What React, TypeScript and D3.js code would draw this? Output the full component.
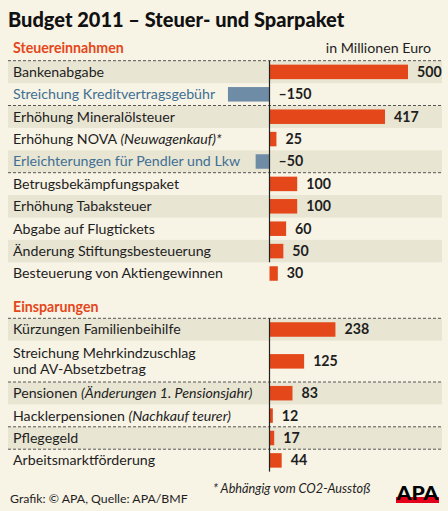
import React from "react";
import * as d3 from "d3";

const taxLabels = [
  "Bankenabgabe",
  "Streichung Kreditvertragsgebühr",
  "Erhöhung Mineralölsteuer",
  "Erhöhung NOVA ",
  "Erleichterungen für Pendler und Lkw",
  "Betrugsbekämpfungspaket",
  "Erhöhung Tabaksteuer",
  "Abgabe auf Flugtickets",
  "Änderung Stiftungsbesteuerung",
  "Besteuerung von Aktiengewinnen",
];
const taxItalic = ["", "", "", "(Neuwagenkauf)*", "", "", "", "", "", ""];
const taxValues = [500, -150, 417, 25, -50, 100, 100, 60, 50, 30];
const taxDashBelow = [1, 4];

const saveLabels = [
  ["Kürzungen Familienbeihilfe"],
  ["Streichung Mehrkindzuschlag", "und AV-Absetzbetrag"],
  ["Pensionen "],
  ["Hacklerpensionen "],
  ["Pflegegeld"],
  ["Arbeitsmarktförderung"],
];
const saveItalic = ["", "", "(Änderungen 1. Pensionsjahr)", "(Nachkauf teurer)", "", ""];
const saveValues = [238, 125, 83, 12, 17, 44];
const saveDashBelow = [1, 3, 4];

const W = 448;
const H = 511;
const BG = "#f7f3e5";
const BAND = "#e8e5d3";
const RED = "#e4471a";
const BLUE = "#6e8ca6";
const BLUE_TXT = "#3f7093";
const FONT = "Lato, 'Open Sans', sans-serif";
const FS = 14.2;

const x = d3.scaleLinear().domain([0, 500]).range([269.5, 408]);
const ROW = 22.4;
const LINE2 = 18.9;
const BAR_H = 14.5;

type Row = { lines: string[]; italic: string; value: number; y0: number; h: number };

function layout(labels: string[][], italic: string[], values: number[], top: number): Row[] {
  let y = top;
  return labels.map((l, i) => {
    const h = ROW + (l.length - 1) * LINE2;
    const r = { lines: l, italic: italic[i], value: values[i], y0: y, h };
    y += h;
    return r;
  });
}

const taxRows = layout(taxLabels.map((l) => [l]), taxItalic, taxValues, 60.7);
const saveRows = layout(saveLabels, saveItalic, saveValues, 318.3);

function fmt(v: number) {
  return v < 0 ? "–" + Math.abs(v) : String(v);
}

function Section({ rows, dashBelow, axisEnd }: { rows: Row[]; dashBelow: number[]; axisEnd: number }) {
  const top = rows[0].y0;
  return (
    <g>
      {rows.map((r, i) =>
        i % 2 === 0 ? <rect key={"b" + i} x={8} y={r.y0} width={434} height={r.h} fill={BAND} /> : null
      )}
      <line x1={8} x2={442} y1={top} y2={top} stroke="#555" strokeWidth={1} strokeDasharray="3,2" />
      {dashBelow.map((i) => (
        <line
          key={"d" + i}
          x1={8}
          x2={442}
          y1={rows[i].y0 + rows[i].h}
          y2={rows[i].y0 + rows[i].h}
          stroke="#555"
          strokeWidth={1}
          strokeDasharray="3,2"
        />
      ))}
      {rows.map((r, i) => {
        const cy = r.y0 + r.h / 2;
        const neg = r.value < 0;
        const col = neg ? BLUE_TXT : "#1e1e1e";
        const n = r.lines.length;
        return (
          <g key={"r" + i}>
            {r.lines.map((ln, j) => (
              <text
                key={j}
                x={13}
                y={cy + (j - (n - 1) / 2) * 16}
                dy="0.35em"
                fontSize={FS}
                fill={col}
                fontFamily={FONT}
              >
                {ln}
                {j === n - 1 && r.italic ? <tspan fontStyle="italic">{r.italic}</tspan> : null}
              </text>
            ))}
            <rect
              x={Math.min(x(0), x(r.value))}
              y={cy - BAR_H / 2}
              width={Math.abs(x(r.value) - x(0))}
              height={BAR_H}
              fill={neg ? BLUE : RED}
            />
            <text
              x={neg ? x(0) + 9 : x(r.value) + 9}
              y={cy}
              dy="0.35em"
              fontSize={14.2}
              fontWeight={700}
              fill="#1e1e1e"
              fontFamily={FONT}
            >
              {fmt(r.value)}
            </text>
          </g>
        );
      })}
      <line x1={x(0)} x2={x(0)} y1={top} y2={axisEnd} stroke="#222" strokeWidth={1.2} />
    </g>
  );
}

export default function App() {
  const lastSave = saveRows[saveRows.length - 1];
  return (
    <svg width={W} height={H} style={{ position: "absolute", left: 0, top: 0 }}>
      <rect x={0} y={0} width={W} height={H} fill={BG} />
      <text x={8} y={26.5} fontSize={20} fontWeight={900} fill="#111" fontFamily={FONT}>
        Budget 2011 – Steuer- und Sparpaket
      </text>
      <text x={13} y={53} fontSize={FS} fontWeight={700} fill={RED} fontFamily={FONT}>
        Steuereinnahmen
      </text>
      <text x={431} y={53} fontSize={FS} textAnchor="end" fill="#1e1e1e" fontFamily={FONT}>
        in Millionen Euro
      </text>
      <Section rows={taxRows} dashBelow={taxDashBelow} axisEnd={taxRows[8].y0 + taxRows[8].h} />
      <text x={13} y={312} fontSize={FS} fontWeight={700} fill={RED} fontFamily={FONT}>
        Einsparungen
      </text>
      <Section rows={saveRows} dashBelow={saveDashBelow} axisEnd={lastSave.y0 + lastSave.h} />
      <text x={213} y={493} fontSize={12.7} fontStyle="italic" fill="#1e1e1e" fontFamily={FONT}>
        * Abhängig vom CO2-Ausstoß
      </text>
      <text x={10} y={503} fontSize={12.3} fill="#1e1e1e" fontFamily={FONT}>
        Grafik: © APA, Quelle: APA/BMF
      </text>
      <rect x={396} y={497} width={43} height={6} fill="#e3001b" />
      <text x={417.5} y={499.5} fontSize={18} fontWeight={900} textAnchor="middle" fill="#000" fontFamily={FONT} textLength={42} lengthAdjust="spacingAndGlyphs">
        APA
      </text>
    </svg>
  );
}
